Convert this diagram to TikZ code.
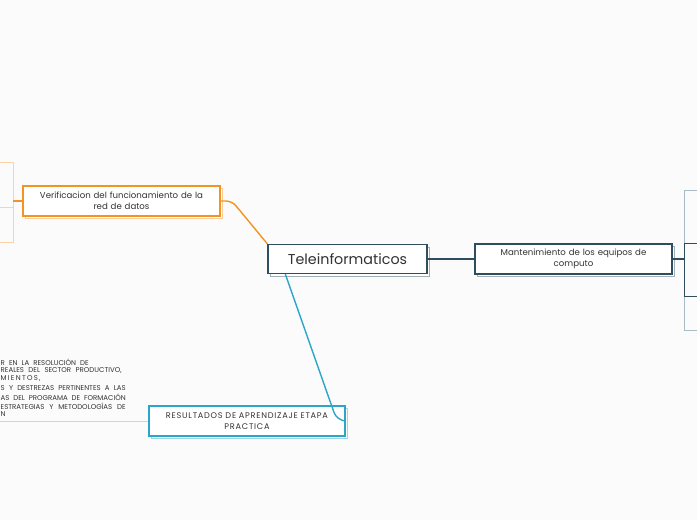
\documentclass[tikz,border=0pt]{standalone}
\usepackage{fontspec}
\setmainfont{Poppins}
\usetikzlibrary{shadows}
\definecolor{bg}{HTML}{FBFBFB}
\definecolor{txt}{HTML}{333333}
\definecolor{slate}{HTML}{2E4E5E}
\definecolor{slatelt}{HTML}{A9BCC6}
\definecolor{orng}{HTML}{F39322}
\definecolor{orlt}{HTML}{FCD3A6}
\definecolor{blu}{HTML}{2AA6C8}
\definecolor{blult}{HTML}{B4DCE9}
\tikzset{
  mbox/.style={draw=#1, line width=1.3pt, fill=white, text=txt, align=center, inner sep=2pt,
     copy shadow={shadow xshift=2.5pt, shadow yshift=-2.5pt, draw=#1!45, fill=white, line width=1pt}},
  conn/.style={line width=1.4pt, draw=#1},
  thin/.style={line width=1pt, draw=#1},
  smalltxt/.style={text=txt, font=\fontsize{7}{8}\selectfont, inner sep=0pt, anchor=west}
}
\begin{document}
\begin{tikzpicture}[x=1pt,y=-1pt]
\clip (0,0) rectangle (697,520);
\fill[bg] (0,0) rectangle (697,520);
\useasboundingbox (0,0) rectangle (697,520);

% right clipped child boxes
\draw[thin=slatelt] (700,190) -- (684,190) -- (684,243);
\draw[thin=slatelt] (684,296) -- (684,330) -- (700,330);
\draw[thin=slate] (700,243) -- (684,243) -- (684,296) -- (700,296);

% left clipped child boxes
\draw[thin=orlt] (0,162) -- (13,162) -- (13,242) -- (0,242);
\draw[thin=orlt] (0,207) -- (13,207);

% bottom-left line
\coordinate (bl) at (0,421);

% nodes
\node[mbox=slate, minimum width=159pt, minimum height=29pt, font=\fontsize{14.3}{16}\selectfont] (center) at (347.5,259) {Teleinformaticos};
\node[mbox=slate, minimum width=197pt, minimum height=30pt, text width=190pt, font=\fontsize{8.6}{11}\selectfont] (mant) at (573.5,259) {Mantenimiento de los equipos de\\computo};
\node[mbox=orng, minimum width=197pt, minimum height=30pt, text width=190pt, font=\fontsize{8.6}{11}\selectfont] (verif) at (121.5,201) {Verificacion del funcionamiento de la\\red de datos};
\node[mbox=blu, minimum width=196pt, minimum height=30pt, text width=192pt, font=\fontsize{8.2}{11.5}\selectfont\addfontfeature{LetterSpace=9}] (res) at (247,421) {RESULTADOS DE APRENDIZAJE ETAPA\\PRACTICA};

% connectors
\coordinate (rj) at (684,259);
\coordinate (lj) at (13,201);
\coordinate (oc) at (232,201);
\coordinate (bc) at (337,421);
\draw[conn=slate] (center.east) -- (mant.west);
\draw[conn=slate] (mant.east) -- (rj);
\draw[conn=orng] (verif.west) -- (lj);
\draw[conn=orng, rounded corners=6pt] (verif.east) -- (oc) -- (center.north west);
\draw[thin=blult] (res.west) -- (bl);
\coordinate (bs) at ([xshift=18pt]center.south west);
\draw[conn=blu, rounded corners=9pt] (bs) -- (bc) -- (res.east);

% text at bottom-left (cut at the picture's edge in the reference)
\node[smalltxt] (t1) at (0.5,362) {\makebox[88pt][s]{R EN LA RESOLUCIÓN DE}};
\node[smalltxt] (t2) at (0.5,371) {\makebox[121pt][s]{REALES DEL SECTOR PRODUCTIVO,}};
\node[smalltxt] (t3) at (0.5,379) {\addfontfeature{LetterSpace=18}MIENTOS,};
\node[smalltxt] (t4) at (0.5,388) {\makebox[125pt][s]{S Y DESTREZAS PERTINENTES A LAS}};
\node[smalltxt] (t5) at (0.5,397) {\makebox[125pt][s]{AS DEL PROGRAMA DE FORMACIÓN}};
\node[smalltxt] (t6) at (0.5,406) {\makebox[125pt][s]{ESTRATEGIAS Y METODOLOGÍAS DE}};
\node[smalltxt] (t7) at (0.5,414) {N};
\end{tikzpicture}
\end{document}
